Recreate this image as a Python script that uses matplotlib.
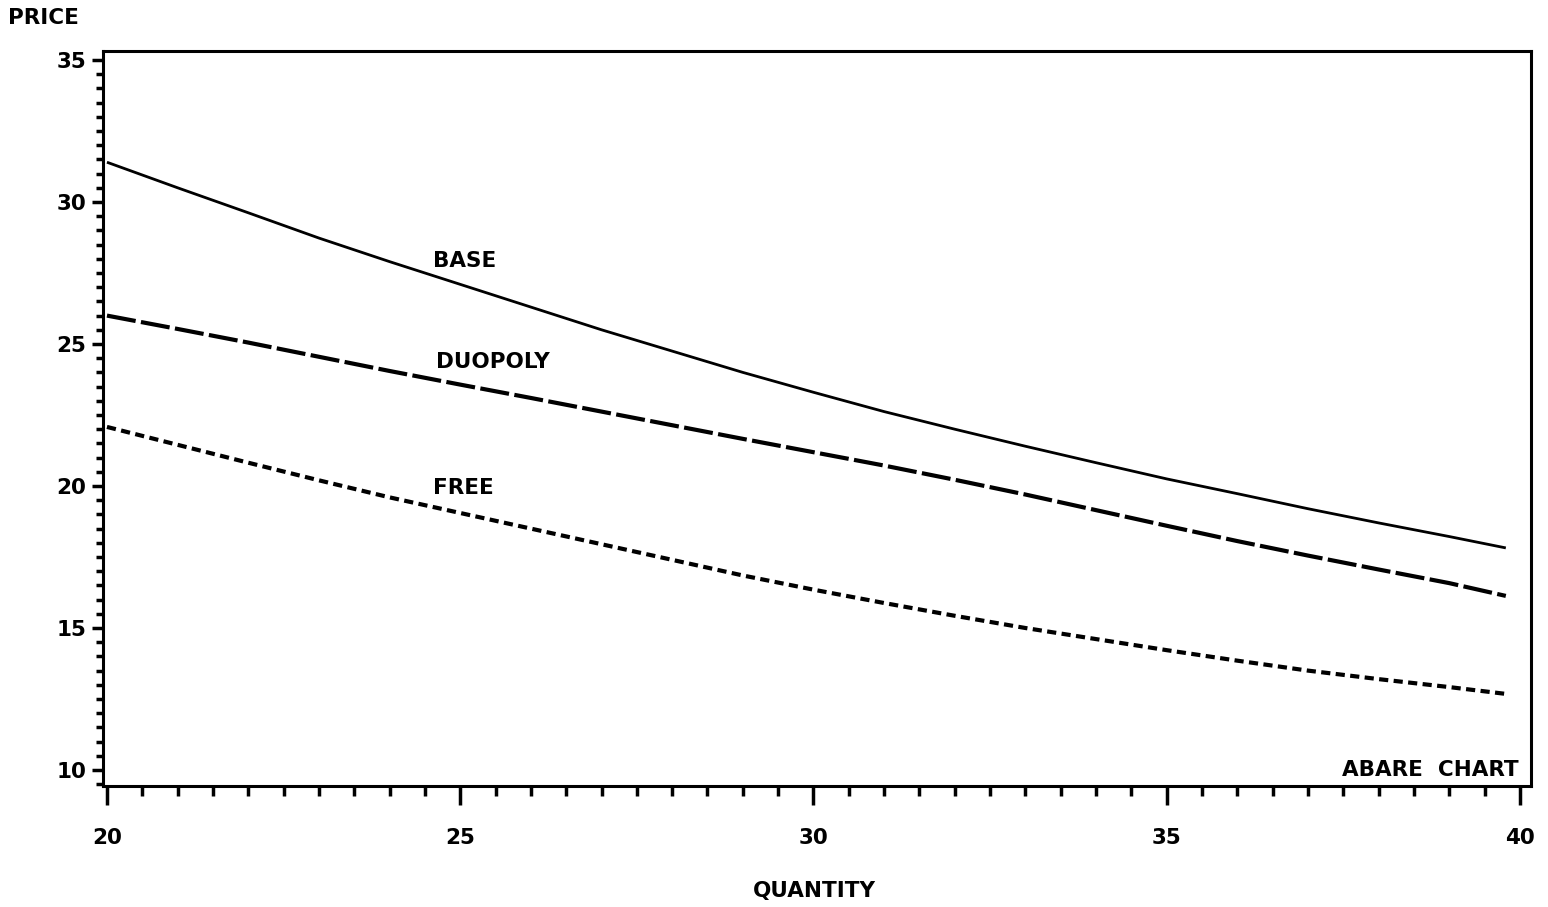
import matplotlib
matplotlib.use("Agg")
import matplotlib.pyplot as plt
from matplotlib.ticker import MultipleLocator

# values
quantity = [20, 21, 22, 23, 24, 25, 26, 27, 28, 29, 30,
            31, 32, 33, 34, 35, 36, 37, 38, 39, 39.8]
base = [31.4, 30.5, 29.62, 28.73, 27.9, 27.1, 26.3, 25.5, 24.75, 24.0, 23.3,
        22.62, 22.0, 21.4, 20.82, 20.25, 19.73, 19.2, 18.7, 18.22, 17.82]
duopoly = [26.0, 25.53, 25.05, 24.55, 24.05, 23.57, 23.1, 22.62, 22.14, 21.66, 21.19,
           20.72, 20.22, 19.7, 19.15, 18.6, 18.06, 17.55, 17.06, 16.58, 16.13]
free = [22.08, 21.45, 20.82, 20.2, 19.6, 19.05, 18.5, 17.95, 17.4, 16.85, 16.35,
        15.88, 15.43, 15.0, 14.61, 14.22, 13.85, 13.5, 13.2, 12.92, 12.68]

labels = ["BASE", "DUOPOLY", "FREE"]
label_pos = [(24.62, 27.92), (24.66, 24.37), (24.62, 19.93)]

font = dict(family="DejaVu Sans", weight="bold", size=15.5)

fig = plt.figure(figsize=(15.48, 9.07), dpi=100)
ax = fig.add_axes([0.0665, 0.1334, 0.9225, 0.8104])

ax.plot(quantity, base, color="black", lw=2.0, solid_capstyle="butt")
ax.plot(quantity, duopoly, color="black", lw=3.0, dashes=(7, 1.3), dash_capstyle="butt")
ax.plot(quantity, free, color="black", lw=3.0, dashes=(2.2, 1.3), dash_capstyle="butt")

for txt, (x, y) in zip(labels, label_pos):
    ax.text(x, y, txt, ha="left", va="center", **font)

ax.text(0.9915, 0.008, "ABARE  CHART", transform=ax.transAxes, ha="right", va="bottom", **font)

ax.set_xlim(19.943, 40.156)
ax.set_ylim(9.437, 35.317)

ax.xaxis.set_major_locator(MultipleLocator(5))
ax.xaxis.set_minor_locator(MultipleLocator(0.5))
ax.yaxis.set_major_locator(MultipleLocator(5))
ax.yaxis.set_minor_locator(MultipleLocator(0.5))

ax.tick_params(axis="x", which="major", direction="out", length=14, width=2.5, pad=16)
ax.tick_params(axis="x", which="minor", direction="out", length=7, width=2.5)
ax.tick_params(axis="y", which="major", direction="out", length=8, width=2.5, pad=4)
ax.tick_params(axis="y", which="minor", direction="out", length=5, width=2.5)
ax.tick_params(top=False, right=False)

for lab in ax.get_xticklabels() + ax.get_yticklabels():
    lab.set_fontfamily("DejaVu Sans")
    lab.set_fontweight("bold")
    lab.set_fontsize(15.5)

for sp in ax.spines.values():
    sp.set_linewidth(2.2)

fig.text(0.005, 0.98, "PRICE", ha="left", va="center", **font)
fig.text(0.526, 0.018, "QUANTITY", ha="center", va="center", **font)

fig.savefig("out.png", dpi=100, facecolor="white")
